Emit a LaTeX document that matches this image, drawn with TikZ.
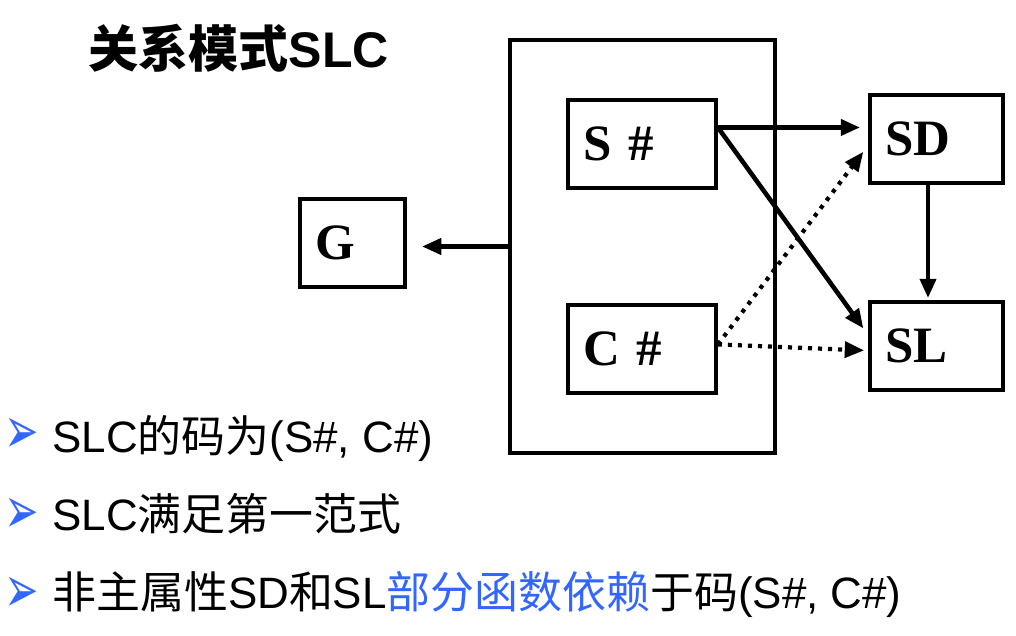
\documentclass[tikz,border=0pt]{standalone}
\usepackage{fontspec}
\setmainfont{Liberation Serif}
\newfontfamily\cjk{Noto Sans CJK SC}
\newfontfamily\arialf{Liberation Sans}
\newfontfamily\symf{DejaVu Sans}
\usetikzlibrary{arrows.meta,positioning,calc}
\definecolor{keyblue}{HTML}{3366FF}
\newcommand{\zh}[1]{{\cjk #1}}
\newcommand{\la}[1]{{\arialf #1}}
\newcommand{\itemmark}{\scalebox{0.9}[1.45]{➢}}

\begin{document}
\begin{tikzpicture}[x=0.02cm,y=-0.02cm]
  % Styles
  \tikzset{
    attr/.style={draw, line width=2.2pt, align=left, minimum height=1.76cm, inner xsep=0.3cm, font=\fontsize{29}{31}\selectfont\bfseries},
    relbox/.style={draw, line width=2.2pt, minimum width=5.3cm, minimum height=8.26cm},
    line/.style={-{Triangle[length=11pt,width=9pt]}, line width=2.6pt},
    partial/.style={-{Triangle[length=11pt,width=9pt]}, line width=2.4pt, dash pattern=on 2.3pt off 3.4pt},
    item/.style={anchor=base west, inner sep=0pt, font=\fontsize{25}{28}\selectfont},
    bullet/.style={anchor=west, inner sep=0pt, text=keyblue, font=\symf\fontsize{26}{28}\selectfont},
  }
  \useasboundingbox (0,0) rectangle (1016,635);

  % Title
  \node[anchor=base west, inner sep=0pt, font=\fontsize{28.5}{31}\selectfont\bfseries] (title) at (88,68) {\zh{关系模式}\la{SLC}};

  % Relation SLC and its attributes
  \node[relbox] (slc) at (642.5,246.5) {};
  \node[attr, text width=2.36cm] (sh) at (642,144) {S \#};
  \node[attr, text width=2.36cm] (ch) at (642,349) {C \#};
  \node[attr, text width=1.5cm] (g) at (352.5,243) {G};
  \node[attr, text width=2.06cm] (sd) at (936.5,139) {SD};
  \node[attr, text width=2.06cm] (sl) at (936.5,346) {SL};

  % Links
  \coordinate (sh-out) at ($(sh.north east)!0.32!(sh.south east)$);
  \coordinate (ch-out) at ($(ch.north east)!0.45!(ch.south east)$);
  \draw[line, shorten >=0.3cm] (slc.west) -- (slc.west -| g.east);
  \draw[line, shorten >=0.16cm] (sh-out) -- (sh-out -| sd.west);
  \draw[line, shorten >=0.16cm] (sh-out) -- ($(sl.north west)!0.38!(sl.south west)$);
  \draw[line, shorten >=0.04cm] ([xshift=-0.17cm]sd.south) -- ([xshift=-0.17cm]sl.north);
  \draw[partial, shorten >=0.16cm] (ch-out) -- ($(sd.north west)!0.57!(sd.south west)$);
  \draw[partial, shorten >=0.08cm] (ch-out) -- ($(sl.north west)!0.55!(sl.south west)$);

  % Notes
  \node[bullet] (b1) at (4,436) {\itemmark};
  \node[bullet] (b2) at (4,516) {\itemmark};
  \node[bullet] (b3) at (4,595) {\itemmark};
  \node[item] (n1) at (52,452) {\la{SLC}\zh{的码为}\la{(S\#, C\#)}};
  \node[item] (n2) at (52,530) {\la{SLC}\zh{满足第一范式}};
  \node[item] (n3) at (52,608) {\zh{非主属性}\la{SD}\zh{和}\la{SL}\textcolor{keyblue}{\zh{部分函数依赖}}\zh{于码}\la{(S\#, C\#)}};
\end{tikzpicture}
\end{document}
